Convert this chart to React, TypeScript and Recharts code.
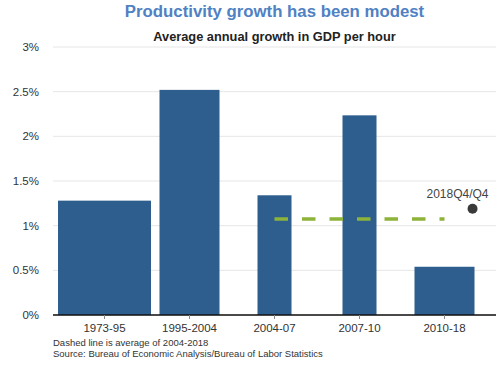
import React from "react";
import {
  ComposedChart,
  Bar,
  Line,
  Scatter,
  XAxis,
  YAxis,
  CartesianGrid,
  LabelList,
} from "recharts";

const periods = ["1973-95", "1995-2004", "2004-07", "2007-10", "2010-18"];
const growth = [1.28, 2.52, 1.34, 2.235, 0.54];
const average = [null, null, 1.075, 1.075, 1.075];
const latestLabel = "2018Q4/Q4";
const latestPos = [4.83];
const latestValue = [1.19];
const yTicks = [0, 0.5, 1, 1.5, 2, 2.5, 3];

const barWidths = [93, 60, 34, 34, 60];

const data = periods.map((p, i) => ({ period: p, growth: growth[i], avg: average[i] }));
const dotData = latestPos.map((p, i) => ({ pos: p, value: latestValue[i], label: latestLabel }));

const BAR_COLOR = "#2d5e8e";
const GREEN = "#8db33a";
const FONT = "'Liberation Sans', Arial, sans-serif";

const BarShape = (props: any) => {
  const { x, y, width, height, index } = props;
  const w = barWidths[index] ?? width;
  const cx = x + width / 2;
  return <rect x={cx - w / 2} y={y} width={w} height={height} fill={BAR_COLOR} />;
};

const DotShape = (props: any) => {
  const { cx, cy } = props;
  return <circle cx={cx} cy={cy} r={5} fill="#3a3a3a" />;
};

const DotLabel = (props: any) => {
  const { x, y, width, value } = props;
  const cx = x + (width || 0) / 2;
  return (
    <text x={cx + 16} y={y - 6} textAnchor="end" fontSize={12} fill="#444" fontFamily={FONT}>
      {value}
    </text>
  );
};

export default function App() {
  return (
    <div style={{ position: "absolute", left: 0, top: 0, width: 500, height: 365, background: "#fff", fontFamily: FONT }}>
      <div style={{ position: "absolute", left: 53, width: 443, top: 1, textAlign: "center", fontSize: 16.8, fontWeight: "bold", color: "#4f81c3", lineHeight: "21px" }}>
        Productivity growth has been modest
      </div>
      <div style={{ position: "absolute", left: 53, width: 443, top: 29, textAlign: "center", fontSize: 12.8, fontWeight: "bold", color: "#222", lineHeight: "16px" }}>
        Average annual growth in GDP per hour
      </div>
      <ComposedChart
        width={500}
        height={365}
        data={data}
        margin={{ top: 47, right: 4, left: 0, bottom: 20 }}
        style={{ position: "absolute", left: 0, top: 0 }}
      >
        <CartesianGrid vertical={false} stroke="#e6e6e6" />
        <XAxis
          dataKey="period"
          type="category"
          padding={{ left: 9, right: 9 }}
          height={30}
          tickSize={4}
          tickMargin={5}
          tick={{ fontSize: 11.5, fill: "#333", fontFamily: FONT }}
          tickLine={{ stroke: "#888" }}
          axisLine={{ stroke: "#111", strokeWidth: 1.5 }}
          interval={0}
        />
        <XAxis
          xAxisId="pos"
          dataKey="pos"
          type="number"
          domain={[0, 5]}
          padding={{ left: 9, right: 9 }}
          hide
          height={30}
        />
        <YAxis
          domain={[0, 3]}
          ticks={yTicks}
          width={53}
          tickSize={0}
          tickMargin={14}
          axisLine={false}
          tickLine={false}
          tickFormatter={(v: number) => `${v}%`}
          tick={{ fontSize: 11.5, fill: "#333", fontFamily: FONT }}
        />
        <Bar dataKey="growth" shape={BarShape} isAnimationActive={false} />
        <Line
          dataKey="avg"
          stroke={GREEN}
          strokeWidth={3.5}
          strokeDasharray="13.5 14"
          dot={false}
          activeDot={false}
          isAnimationActive={false}
        />
        <Scatter xAxisId="pos" data={dotData} dataKey="value" shape={DotShape} isAnimationActive={false}>
          <LabelList dataKey="label" content={DotLabel} />
        </Scatter>
      </ComposedChart>
      <div style={{ position: "absolute", left: 53, top: 337, fontSize: 9.5, color: "#333", lineHeight: "11px" }}>
        Dashed line is average of 2004-2018
      </div>
      <div style={{ position: "absolute", left: 53, top: 348, fontSize: 9.5, color: "#333", lineHeight: "11px" }}>
        Source: Bureau of Economic Analysis/Bureau of Labor Statistics
      </div>
    </div>
  );
}
